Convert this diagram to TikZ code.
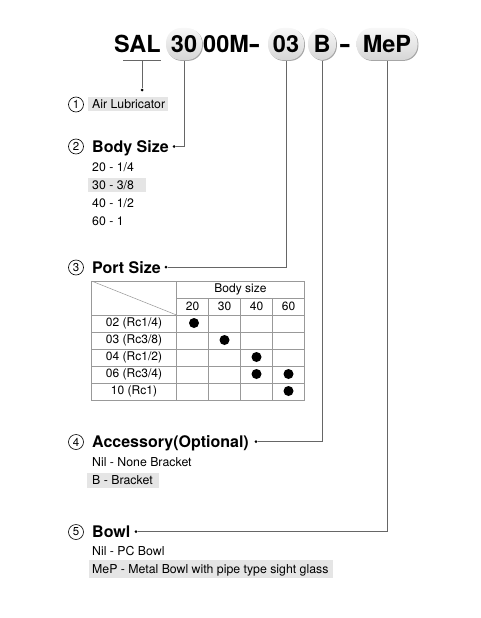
\documentclass[tikz,border=0pt]{standalone}
\usepackage{fontspec}
\setmainfont{TeX Gyre Heros}
\usetikzlibrary{shadows}
\newcommand{\widehy}{\scalebox{1.45}[1]{-}}
\begin{document}
\begin{tikzpicture}[x=1pt,y=-1pt,
  code/.style={font=\fontsize{23.5}{26}\selectfont\bfseries, inner sep=0pt},
  pill/.style={code, rounded corners=15pt, minimum height=32pt,
    top color=gray!6, bottom color=gray!32,
    drop shadow={shadow xshift=0.9pt, shadow yshift=-0.9pt, fill=gray!70, opacity=1}},
  item/.style={font=\fontsize{12.3}{14}\selectfont, inner sep=0pt, anchor=base west},
  head/.style={font=\fontsize{16}{18}\selectfont\bfseries, inner sep=0pt, anchor=base west},
  num/.style={circle, draw, line width=0.6pt, inner sep=0pt, minimum size=15pt,
    font=\fontsize{11.5}{12}\selectfont},
  conn/.style={draw=black!60, line width=0.6pt},
  hl/.style={fill=black!10},
  sdot/.style={circle, fill=black, inner sep=0pt, minimum size=3pt},
  tbl/.style={draw=black!40, line width=0.5pt},
  ttxt/.style={font=\fontsize{12}{14}\selectfont, inner sep=0pt},
  bdot/.style={circle, fill=black, inner sep=0pt, minimum size=10pt}
]
\useasboundingbox (0,0) rectangle (480,618);

% ---- code line ----
\node[code, anchor=base west] (sal) at (114,52.5) {SAL};
\node[code, anchor=base west] (oom) at (203,52.5) {00M\widehy};
\node[code, anchor=base] (dash) at (345,52.5) {\widehy};

% connectors (drawn before pills so pills cover their ends)
\coordinate (ul1) at (123,60.7);
\coordinate (ul2) at (161,60.7);
\coordinate (ulm) at (142,60.7);
\node[sdot] (d1) at (142,90) {};
\node[sdot] (d2) at (174,146.5) {};
\node[sdot] (d3) at (166,267) {};
\node[sdot] (d4) at (256,441.7) {};
\node[sdot] (d5) at (136,531.7) {};
\coordinate (c2) at (184,44);
\coordinate (c3) at (286,44);
\coordinate (c4) at (322,44);
\coordinate (c5) at (387,44);

\draw[conn] (ul1) -- (ul2);
\draw[conn] (ulm) -- (d1);
\draw[conn] (c2) |- (d2);
\draw[conn] (c3) |- (d3);
\draw[conn] (c4) |- (d4);
\draw[conn] (c5) |- (d5);

\node[pill, minimum width=36pt] (p30) at (c2) {30};
\node[pill, minimum width=36pt] (p03) at (c3) {03};
\node[pill, minimum width=28pt] (pB) at (c4) {B};
\node[pill, minimum width=61pt] (pMeP) at (c5) {MeP};

% ---- 1 ----
\node[num] (n1) at (76,104.5) {1};
\fill[hl] (88,97) rectangle (168,110.5);
\node[item] (t1) at (92,108.6) {Air Lubricator};

% ---- 2 ----
\node[num] (n2) at (76,146.5) {2};
\node[head] (h2) at (92,152.5) {Body Size};
\node[item] (b20) at (92,171) {20 - 1/4};
\fill[hl] (88,178) rectangle (146,192);
\node[item] (b30) at (92,189.3) {30 - 3/8};
\node[item] (b40) at (92,207.6) {40 - 1/2};
\node[item] (b60) at (92,225.9) {60 - 1};

% ---- 3 ----
\node[num] (n3) at (76,267.5) {3};
\node[head] (h3) at (92,273) {Port Size};

% table
\draw[tbl] (91.5,281) rectangle (304.5,400);
\draw[tbl] (176.5,298) -- (304.5,298);
\foreach \yy in {315,332,349,366,383} \draw[tbl] (91.5,\yy) -- (304.5,\yy);
\draw[tbl] (176.5,281) -- (176.5,400);
\foreach \xx in {208.5,240.5,272.5} \draw[tbl] (\xx,298) -- (\xx,400);
\draw[tbl] (91.5,281) -- (176.5,315);

\node[ttxt] (bs) at (240.5,289.5) {Body size};
\node[ttxt] (c20) at (192.5,306.5) {20};
\node[ttxt] (c30) at (224.5,306.5) {30};
\node[ttxt] (c40) at (256.5,306.5) {40};
\node[ttxt] (c60) at (288.5,306.5) {60};
\node[ttxt] (r02) at (134,323.5) {02 (Rc1/4)};
\node[ttxt] (r03) at (134,340.5) {03 (Rc3/8)};
\node[ttxt] (r04) at (134,357.5) {04 (Rc1/2)};
\node[ttxt] (r06) at (134,374.5) {06 (Rc3/4)};
\node[ttxt] (r10) at (134,391.5) {10 (Rc1)};
\node[bdot] (k1) at (194,323) {};
\node[bdot] (k2) at (224.5,340) {};
\node[bdot] (k3) at (256.5,357) {};
\node[bdot] (k4) at (256.5,374) {};
\node[bdot] (k5) at (288.5,374) {};
\node[bdot] (k6) at (288.5,391) {};

% ---- 4 ----
\node[num] (n4) at (76,442) {4};
\node[head] (h4) at (92,447.5) {Accessory(Optional)};
\node[item] (a1) at (92,466.1) {Nil - None Bracket};
\fill[hl] (86.7,472.7) rectangle (159,487.7);
\node[item] (a2) at (92,484.4) {B - Bracket};

% ---- 5 ----
\node[num] (n5) at (76,532) {5};
\node[head] (h5) at (92,537.5) {Bowl};
\node[item] (w1) at (92,555.1) {Nil - PC Bowl};
\fill[hl] (89,560) rectangle (332.7,578);
\node[item] (w2) at (92,573.4) {MeP - Metal Bowl with pipe type sight glass};
\end{tikzpicture}
\end{document}
